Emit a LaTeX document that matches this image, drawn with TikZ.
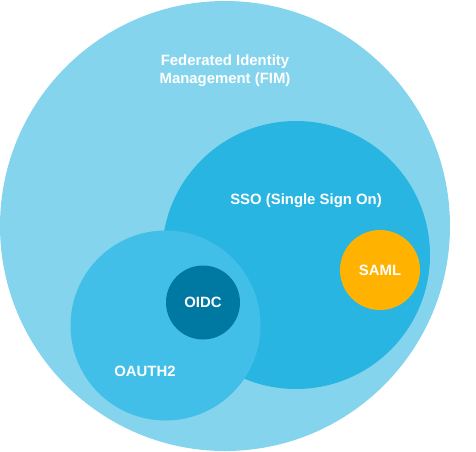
\documentclass[tikz,border=0pt]{standalone}
\usepackage{fontspec}
\setmainfont{Liberation Sans}
\usepackage{xcolor}
\definecolor{fimLight}{RGB}{133, 212, 238}
\definecolor{ssoBlue}{RGB}{41, 181, 226}
\definecolor{oauthBlue}{RGB}{66, 191, 232}
\definecolor{oidcDark}{RGB}{0, 121, 162}
\definecolor{samlAmber}{RGB}{255, 179, 0}
\usepackage{tikz}
\usetikzlibrary{positioning}

\begin{document}
\begin{tikzpicture}[
    x=1pt, y=-1pt,
    setCircle/.style={
        circle, draw=none, inner sep=0pt
    },
    setLabel/.style={
        text=white, font=\fontsize{14.9}{18}\selectfont\bfseries,
        align=center, inner sep=0pt
    }
]
    \useasboundingbox (0,0) rectangle (476,451);

    % Circles
    \node[setCircle, fill=fimLight, minimum size=450pt] (fim) at (225, 226) {};
    \node[setCircle, fill=ssoBlue, minimum size=268pt] (sso) at (296, 255) {};
    \node[setCircle, fill=oauthBlue, minimum size=190pt] (oauth) at (165.5, 325.5) {};
    \node[setCircle, fill=oidcDark, minimum size=74pt] (oidc) at (203, 302.5) {};
    \node[setCircle, fill=samlAmber, minimum size=80pt] (saml) at (380, 270) {};

    % Labels
    \node[setLabel] (fimText) at (225, 71) {Federated Identity\\Management (FIM)};
    \node[setLabel] (ssoText) at (306, 201) {SSO (Single Sign On)};
    \node[setLabel] (oauthText) at (145, 371) {OAUTH2};
    \node[setLabel] (oidcText) at (oidc) {OIDC};
    \node[setLabel] (samlText) at (saml) {SAML};

\end{tikzpicture}
\end{document}
